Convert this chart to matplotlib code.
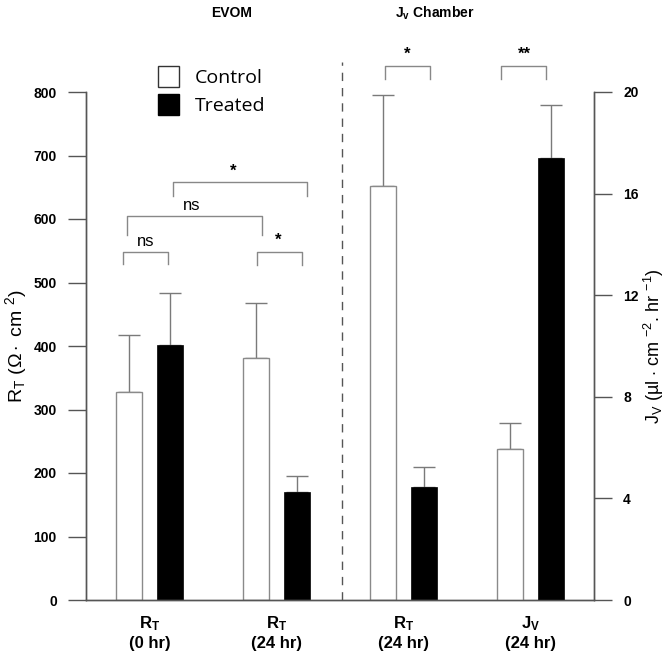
import matplotlib
matplotlib.use("Agg")
import matplotlib.pyplot as plt
from matplotlib.patches import Patch
import numpy as np

plt.rcParams['font.family'] = ['Liberation Sans', 'DejaVu Sans']
plt.rcParams['mathtext.fontset'] = 'custom'
plt.rcParams['mathtext.rm'] = 'Liberation Sans'
plt.rcParams['mathtext.bf'] = 'Liberation Sans:bold'
plt.rcParams['mathtext.it'] = 'Liberation Sans:italic'

# ---- data ----
groups = ["$\\mathbf{R_T}$\n(0 hr)", "$\\mathbf{R_T}$\n(24 hr)", "$\\mathbf{R_T}$\n(24 hr)", "$\\mathbf{J_V}$\n(24 hr)"]
# R_T groups (left axis, ohm*cm2)
rt_control = [328, 381, 652]
rt_control_err = [89, 87, 144]
rt_treated = [401, 170, 178]
rt_treated_err = [82, 25, 31]
# Jv group (right axis)
jv_control = [5.95]
jv_control_err = [1.03]
jv_treated = [17.4]
jv_treated_err = [2.1]

left_ticks = [0, 100, 200, 300, 400, 500, 600, 700, 800]
right_ticks = [0, 4, 8, 12, 16, 20]

# significance brackets: (x0, x1, top, drop, label, text_x, text_y)
brackets = [
    (-0.209, 0.147, 548, 529, "ns", -0.03, 553),
    (0.845, 1.198, 548, 528, "*", 1.01, 555),
    (-0.175, 0.884, 605, 575, "ns", 0.335, 610),
    (0.186, 1.237, 658, 637, "*", 0.66, 664),
    (1.851, 2.209, 841, 820, "*", 2.03, 847),
    (2.769, 3.122, 841, 820, "**", 2.95, 847),
]

W, H = 668, 655
fig = plt.figure(figsize=(W / 100, H / 100), dpi=100)
ax = fig.add_axes([86 / W, 1 - 600 / H, 508 / W, 508 / H])
ax2 = ax.twinx()

x = np.arange(len(groups))
off = 0.165
bw = 0.205
edge = '#8a8a8a'
errc = '#7a7a7a'

ax.bar(x[:3] - off, rt_control, bw, color='white', edgecolor=edge, linewidth=1.0, zorder=2)
ax.errorbar(x[:3] - off, rt_control, yerr=[np.zeros(3), rt_control_err], fmt='none',
            ecolor=errc, elinewidth=1.0, capsize=8, capthick=1.0, zorder=1)
ax.bar(x[:3] + off, rt_treated, bw, color='black', edgecolor='black', linewidth=0.5, zorder=2)
ax.errorbar(x[:3] + off, rt_treated, yerr=[np.zeros(3), rt_treated_err], fmt='none',
            ecolor=errc, elinewidth=1.0, capsize=8, capthick=1.0, zorder=1)

ax2.bar(x[3:] - off, jv_control, bw, color='white', edgecolor=edge, linewidth=1.0, zorder=2)
ax2.errorbar(x[3:] - off, jv_control, yerr=[[0], jv_control_err], fmt='none',
             ecolor=errc, elinewidth=1.0, capsize=8, capthick=1.0, zorder=1)
ax2.bar(x[3:] + off, jv_treated, bw, color='black', edgecolor='black', linewidth=0.5, zorder=2)
ax2.errorbar(x[3:] + off, jv_treated, yerr=[[0], jv_treated_err], fmt='none',
             ecolor=errc, elinewidth=1.0, capsize=8, capthick=1.0, zorder=1)

ax.set_xlim(-0.5, 3.5)
ax.set_ylim(0, 800)
ax2.set_ylim(0, 20)
ax.set_yticks(left_ticks)
ax2.set_yticks(right_ticks)
ax.set_xticks(x)
ax.set_xticklabels(groups, fontsize=12, fontweight='bold', linespacing=1.3)
ax.tick_params(axis='x', length=0, pad=10)
ax.tick_params(axis='y', length=13, width=1.0, color='#555555', pad=8, labelsize=10)
ax2.tick_params(axis='y', length=13, width=1.0, color='#555555', pad=8, labelsize=10)
for lab in ax.get_yticklabels() + ax2.get_yticklabels():
    lab.set_fontweight('bold')

for a in (ax, ax2):
    a.spines['top'].set_visible(False)
    for s in ('left', 'right', 'bottom'):
        a.spines[s].set_color('#555555')
        a.spines[s].set_linewidth(1.0)
ax.spines['bottom'].set_bounds(-0.5, 3.5)

ax.set_ylabel("R$_{\\rm T}$ ($\\Omega\\cdot$ cm $^{2}$)", fontsize=14, labelpad=3)
ax2.set_ylabel("J$_{\\rm V}$ (µl $\\cdot$ cm $^{-2}$. hr $^{-1}$)", fontsize=13, labelpad=2)

# dashed separator
ax.plot([1.518, 1.518], [0, 847], ls=(0, (6, 5)), color='#555555', lw=1.0, clip_on=False, zorder=0)

# brackets
for x0, x1, top, drop, lab, tx, ty in brackets:
    ax.plot([x0, x0, x1, x1], [drop, top, top, drop], color='#888888', lw=1.0, clip_on=False)
    ax.text(tx, ty, lab, ha='center', va='bottom', fontsize=12,
            fontweight='normal' if lab == 'ns' else 'bold')

# titles
fig.text(232 / W, 1 - 13 / H, "EVOM", ha='center', va='center', fontsize=10, fontweight='bold')
fig.text(435 / W, 1 - 13 / H, "J$_{\\mathbf{v}}$ Chamber", ha='center', va='center', fontsize=10, fontweight='bold')

# legend
handles = [Patch(facecolor='white', edgecolor='#333333', linewidth=1.0, label='Control'),
           Patch(facecolor='black', edgecolor='black', label='Treated')]
leg = fig.legend(handles=handles, loc='upper left', bbox_to_anchor=(150 / W, 1 - 58 / H),
                 frameon=False, fontsize=14, handlelength=1.1, handleheight=1.3,
                 handletextpad=0.8, labelspacing=0.35, borderaxespad=0)
for t in leg.get_texts():
    t.set_family(['Open Sans', 'DejaVu Sans'])

fig.savefig("out.png", dpi=100)
